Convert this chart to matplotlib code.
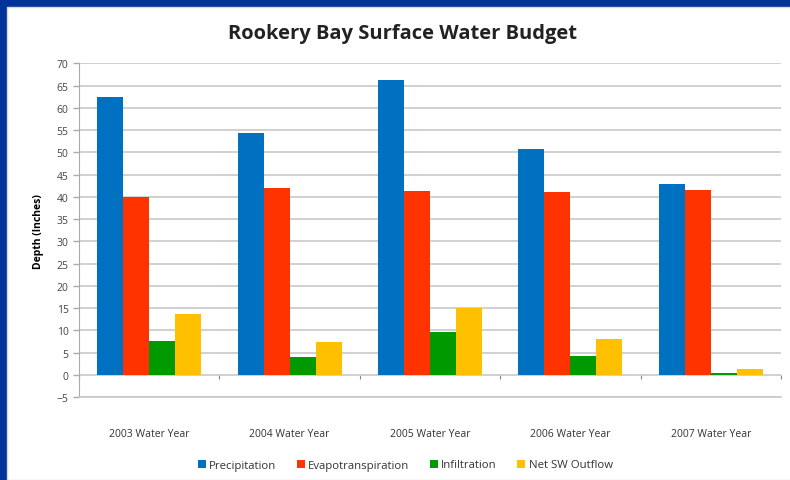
import matplotlib
matplotlib.use("Agg")
import matplotlib.pyplot as plt
import numpy as np
from matplotlib.patches import Rectangle

# 데이터
years = ["2003 Water Year", "2004 Water Year", "2005 Water Year", "2006 Water Year", "2007 Water Year"]
precipitation = [62.5, 54.4, 66.3, 50.8, 42.8]
evapotranspiration = [40.0, 42.0, 41.3, 41.1, 41.5]
infiltration = [7.7, 3.9, 9.6, 4.3, 0.5]
net_sw_outflow = [13.6, 7.4, 15.0, 8.1, 1.2]

series = [("Precipitation", precipitation, "#0070C0"),
          ("Evapotranspiration", evapotranspiration, "#FF3300"),
          ("Infiltration", infiltration, "#009900"),
          ("Net SW Outflow", net_sw_outflow, "#FFC000")]

plt.rcParams['font.family'] = ['Open Sans', 'DejaVu Sans']

fig = plt.figure(figsize=(7.9, 4.81), dpi=100)
fig.patch.set_facecolor("#003399")
# 흰색 패널
fig.patches.append(Rectangle((7 / 790, 0), 1, 1 - 8 / 481, transform=fig.transFigure,
                             facecolor="white", edgecolor="#d8d8d8", lw=1, zorder=-10))

ax = fig.add_axes([0.100, 0.1726, 0.8886, 0.6934])
ax.set_facecolor("white")

x = np.arange(len(years))
w = 0.185
for i, (name, vals, col) in enumerate(series):
    ax.bar(x + (i - 1.5) * w, vals, width=w, color=col, label=name, zorder=3)

ax.set_xlim(-0.5, len(years) - 0.5)
ax.set_ylim(-5, 70)
ax.set_yticks(np.arange(-5, 71, 5))
ax.yaxis.grid(True, color="#c8c8c8", lw=1.2, zorder=0)
ax.tick_params(axis='y', labelsize=7.5, labelcolor="#444444", color="#aaaaaa", length=4, width=1)
ax.set_xticks(x)
ax.set_xticklabels(years, fontsize=7.5, color="#333333")
ax.tick_params(axis='x', length=0, pad=22)

for s in ["top", "right"]:
    ax.spines[s].set_visible(False)
ax.spines["left"].set_color("#aaaaaa")
ax.spines["bottom"].set_color("#c8c8c8")
ax.spines["bottom"].set_linewidth(1.2)

# 0 선 위의 눈금
sec = ax.secondary_xaxis(5 / 75)
sec.set_xticks(np.arange(len(years) + 1) - 0.5)
sec.set_xticklabels([])
sec.tick_params(length=3, color="#888888", direction="out")
sec.spines["bottom"].set_visible(False)

ax.set_ylabel("Depth (Inches)", fontsize=7.5, fontweight="bold", labelpad=9)

fig.text(0.51, 1 - 34 / 481, "Rookery Bay Surface Water Budget", ha="center", va="center",
         fontsize=14.5, fontweight="bold", color="#222222")

fig.legend(loc="center", bbox_to_anchor=(0.513, 1 - 466 / 481), ncol=4, frameon=False,
           fontsize=8.2, handlelength=0.7, handleheight=0.7, handletextpad=0.3, columnspacing=1.8)
for t in fig.legends[0].get_texts():
    t.set_color("#333333")

fig.savefig("out.png", dpi=100, facecolor=fig.get_facecolor())
